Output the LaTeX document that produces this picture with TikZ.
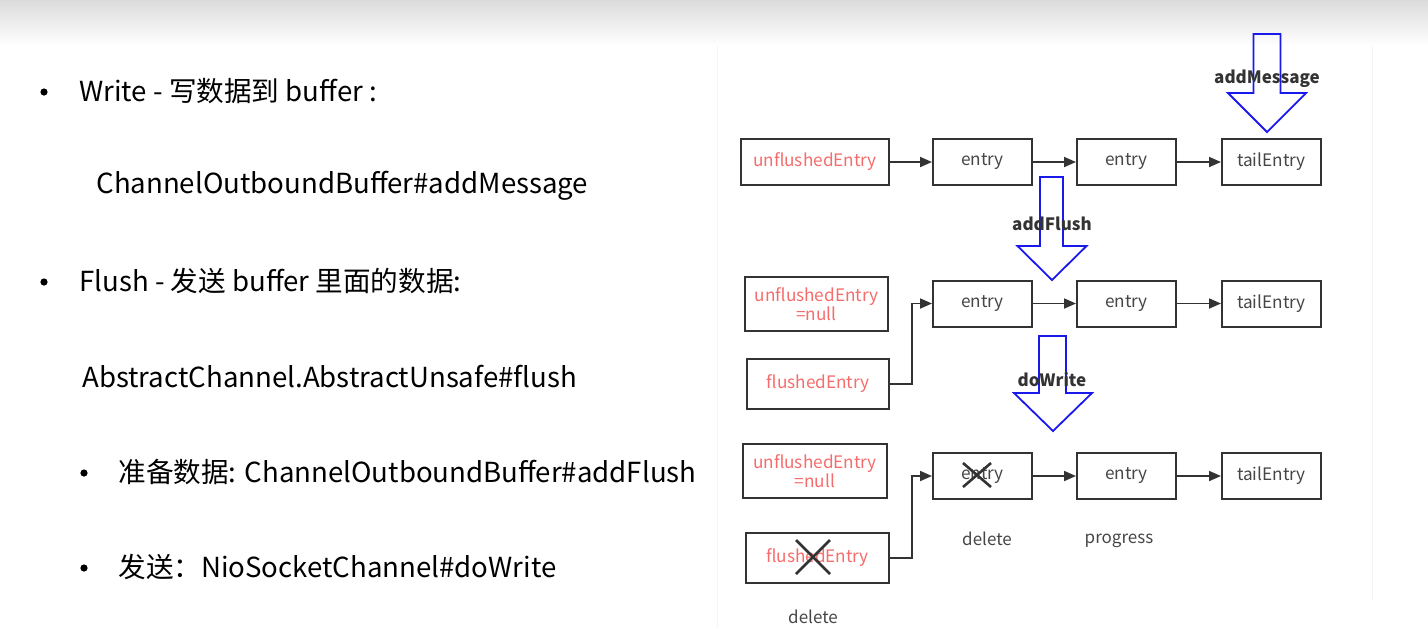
\documentclass[tikz,border=0pt]{standalone}
\usepackage{fontspec}
\setmainfont{Noto Sans CJK SC}
\usetikzlibrary{positioning,arrows.meta}

\definecolor{linegray}{RGB}{51,51,51}
\definecolor{textgray}{RGB}{70,70,70}
\definecolor{entryred}{RGB}{246,108,108}
\definecolor{arrowblue}{RGB}{25,25,235}

\begin{document}
\begin{tikzpicture}[x=0.5pt,y=-0.5pt,
	entrybox/.style={ % 链表里的一个节点
		draw=linegray, line width=1pt, inner sep=0pt,
		minimum width=49.5pt, minimum height=23pt,
		text=textgray, font=\fontsize{8.6}{9.5}\selectfont
	},
	redbox/.style={entrybox, text=entryred, align=center},
	link/.style={draw=linegray, line width=0.9pt, -{Triangle[length=6pt,width=5pt]}},
	fatarrow/.style={draw=arrowblue, line width=0.9pt, line join=miter},
	cross/.style={draw=linegray, line width=1.3pt},
	steplabel/.style={text=linegray, font=\bfseries\fontsize{8.5}{10}\selectfont},
	note/.style={text=textgray, font=\fontsize{8.5}{10}\selectfont},
	slide/.style={anchor=west, inner sep=0pt, font=\fontsize{13.8}{16}\selectfont},
	dot/.style={circle, fill=black, inner sep=0pt, minimum size=3.6pt}
]
	\useasboundingbox (0,0) rectangle (1428,628);
	\shade[top color=gray!28, bottom color=white] (0,0) rectangle (1428,46);
	\draw[gray!8] (717,46) -- (717,628);
	\draw[gray!8] (1372,46) -- (1372,600);

	%% 左边的文字
	\node[dot] (b1) at (44,92) {};
	\node[slide] (write) at (79,91) {Write - 写数据到 buffer :};
	\node[slide] (addmsg) at (96,186) {ChannelOutboundBuffer\#addMessage};
	\node[dot] (b2) at (44,282) {};
	\node[slide] (flush) at (79,281) {Flush - 发送 buffer 里面的数据:};
	\node[slide] (unsafe) at (82,377) {AbstractChannel.AbstractUnsafe\#flush};
	\node[dot] (b3) at (84,473) {};
	\node[slide] (prepare) at (118,472) {准备数据: ChannelOutboundBuffer\#addFlush};
	\node[dot] (b4) at (84,568) {};
	\node[slide] (send) at (118,567) {发送：NioSocketChannel\#doWrite};

	%% 第一行 addMessage
	\node[redbox, minimum width=74pt] (ue1) at (815,162) {unflushedEntry};
	\node[entrybox, right=21pt of ue1] (e11) {entry};
	\node[entrybox, right=21.5pt of e11] (e12) {entry};
	\node[entrybox, right=22pt of e12] (t1) {tailEntry};
	\draw[link] (ue1) -- (e11);
	\draw[link] (e11) -- (e12);
	\draw[link] (e12) -- (t1);

	%% 第二行 addFlush
	\node[redbox, minimum width=71.5pt, minimum height=27pt] (ue2) at (816.5,304) {unflushedEntry\\=null};
	\node[redbox, minimum width=71pt, minimum height=25pt] (fe2) at (818,384) {flushedEntry};
	\node[entrybox] (e21) at (982.5,303.5) {entry};
	\node[entrybox, right=21.5pt of e21] (e22) {entry};
	\node[entrybox, right=22pt of e22] (t2) {tailEntry};
	\draw[link] (fe2.east) -- ++(22,0) |- (e21.west);
	\draw[link] (e21) -- (e22);
	\draw[link] (e22) -- (t2);

	%% 第三行 doWrite
	\node[redbox, minimum width=72pt, minimum height=27pt] (ue3) at (815,471) {unflushedEntry\\=null};
	\node[redbox, minimum width=71.5pt, minimum height=25pt] (fe3) at (817.5,558) {flushedEntry};
	\node[entrybox] (e31) at (982.5,476) {entry};
	\node[entrybox, right=21.5pt of e31] (e32) {entry};
	\node[entrybox, right=22pt of e32] (t3) {tailEntry};
	\draw[link] (fe3.east) -- ++(22,0) |- (e31.west);
	\draw[link] (e31) -- (e32);
	\draw[link] (e32) -- (t3);
	% 删除的节点打叉
	\draw[cross] ([shift={(-19.5,-13)}]e31.center) -- ([shift={(8.5,11)}]e31.center)
		([shift={(-19.5,11)}]e31.center) -- ([shift={(8.5,-13)}]e31.center);
	\draw[cross] ([shift={(-21.5,-18)}]fe3.center) -- ([shift={(12.5,16)}]fe3.center)
		([shift={(-21.5,16)}]fe3.center) -- ([shift={(12.5,-18)}]fe3.center);
	\node[note] (del1) at (813,617) {delete};
	\node[note] (del2) at (987,539) {delete};
	\node[note] (prog) at (1119,541) {progress};

	%% 蓝色的大箭头
	\coordinate (msgtip) at (1267,132);
	\draw[fatarrow] (msgtip) -- ++(-39,-39) -- ++(25.5,0) -- ++(0,-59) -- ++(27,0)
		-- ++(0,59) -- ++(25.5,0) -- cycle;
	\node[steplabel] (msg) at (1267,79) {addMessage};
	\coordinate (flushtip) at (1052,280);
	\draw[fatarrow] (flushtip) -- ++(-34.5,-34) -- ++(22.5,0) -- ++(0,-69) -- ++(23,0)
		-- ++(0,69) -- ++(23.5,0) -- cycle;
	\node[steplabel] (fl) at (1052,224) {addFlush};
	\coordinate (writetip) at (1053,431);
	\draw[fatarrow] (writetip) -- ++(-39,-38) -- ++(25,0) -- ++(0,-57) -- ++(27,0)
		-- ++(0,57) -- ++(26,0) -- cycle;
	\node[steplabel] (dw) at (1052,380) {doWrite};
\end{tikzpicture}
\end{document}
